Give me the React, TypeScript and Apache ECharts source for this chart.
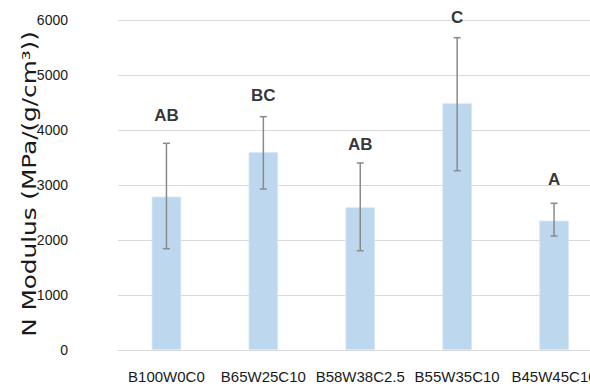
import React, { useEffect, useRef } from "react";
import * as echarts from "echarts";

const categories = ["B100W0C0", "B65W25C10", "B58W38C2.5", "B55W35C10", "B45W45C10"];
const meanValues = [2787, 3600, 2594, 4485, 2351];
const errorHigh = [3758, 4242, 3400, 5678, 2667];
const errorLow = [1842, 2927, 1805, 3260, 2073];
const groupLetters = ["AB", "BC", "AB", "C", "A"];
const letterPositions = [4267, 4630, 3731, 6050, 3100];
const yTicks = { min: 0, max: 6000, interval: 1000 };
const yAxisTitle = "N Modulus (MPa/(g/cm³))";

export default function App() {
  const ref = useRef<HTMLDivElement>(null);
  useEffect(() => {
    document.body.style.margin = "0";
    const chart = echarts.init(ref.current!, null, { renderer: "svg" });
    const sans = "'Liberation Sans', Arial, sans-serif";
    chart.setOption({
      animation: false,
      backgroundColor: "#ffffff",
      grid: { left: 118, right: 7.5, top: 20, bottom: 39, containLabel: false, outerBoundsMode: "none" },
      graphic: [
        {
          type: "text",
          x: 30,
          y: 184,
          rotation: Math.PI / 2,
          scaleX: 1.3,
          style: {
            text: yAxisTitle,
            fill: "#1a1a1a",
            fontFamily: "'DejaVu Sans', sans-serif",
            fontSize: 19,
            align: "center",
            verticalAlign: "middle",
          },
        },
      ],
      xAxis: {
        type: "category",
        data: categories,
        axisLine: { show: true, lineStyle: { color: "#d9d9d9", width: 1 } },
        axisTick: { show: false },
        axisLabel: { color: "#1a1a1a", fontFamily: sans, fontSize: 15, margin: 19, interval: 0 },
        splitLine: { show: false },
      },
      yAxis: {
        type: "value",
        min: yTicks.min,
        max: yTicks.max,
        interval: yTicks.interval,
        axisLine: { show: false },
        axisTick: { show: false },
        axisLabel: {
          color: "#1a1a1a",
          fontFamily: sans,
          fontSize: 14,
          margin: 50,
          formatter: (v: number) => String(v),
        },
        splitLine: { lineStyle: { color: "#d9d9d9", width: 1 } },
      },
      series: [
        {
          type: "bar",
          data: meanValues,
          barWidth: 29.5,
          itemStyle: { color: "#bdd7ee", borderColor: "#d6e6f5", borderWidth: 0.8 },
          z: 2,
        },
        {
          type: "custom",
          z: 3,
          data: categories.map((_, i) => [i, errorLow[i], errorHigh[i]]),
          renderItem: (params: any, api: any) => {
            const x = api.value(0);
            const lo = api.coord([x, api.value(1)]);
            const hi = api.coord([x, api.value(2)]);
            const cap = 3.5;
            const style = { stroke: "#8a8a8a", lineWidth: 1.5 };
            return {
              type: "group",
              children: [
                { type: "line", shape: { x1: hi[0], y1: hi[1], x2: lo[0], y2: lo[1] }, style },
                { type: "line", shape: { x1: hi[0] - cap, y1: hi[1], x2: hi[0] + cap, y2: hi[1] }, style },
                { type: "line", shape: { x1: lo[0] - cap, y1: lo[1], x2: lo[0] + cap, y2: lo[1] }, style },
              ],
            };
          },
        },
        {
          type: "scatter",
          z: 4,
          clip: false,
          symbolSize: 0,
          data: letterPositions,
          label: {
            show: true,
            position: "inside",
            formatter: (p: any) => groupLetters[p.dataIndex],
            color: "#000000",
            fontFamily: sans,
            fontWeight: "bold",
            fontSize: 17,
          },
        },
      ],
    });
    return () => chart.dispose();
  }, []);
  return (
    <div style={{ position: "fixed", left: 0, top: 0, width: 590, height: 389, overflow: "hidden", background: "#fff" }}>
      <div ref={ref} style={{ width: 610, height: 389 }} />
    </div>
  );
}
